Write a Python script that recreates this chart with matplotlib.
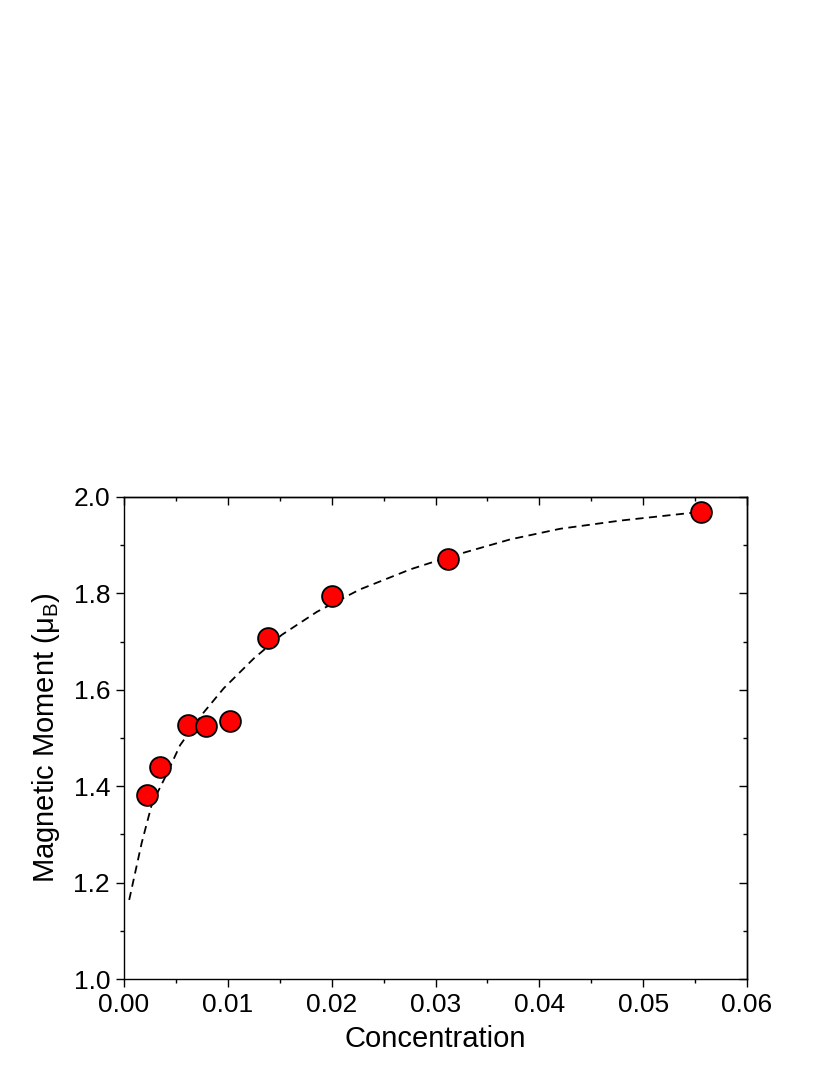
import matplotlib
matplotlib.use('Agg')
import matplotlib.pyplot as plt
from matplotlib.ticker import MultipleLocator, FormatStrFormatter

# measured points
conc = [0.00222, 0.00347, 0.00617, 0.0079, 0.0102, 0.01387, 0.02004, 0.0312, 0.0556]
moment = [1.382, 1.440, 1.527, 1.525, 1.535, 1.707, 1.795, 1.871, 1.969]

# dashed fit curve
fit_x = [0.0005, 0.0017, 0.0027, 0.0040, 0.0054, 0.0076, 0.0096, 0.0125, 0.0152,
         0.0186, 0.0227, 0.0276, 0.0312, 0.0372, 0.0420, 0.0478, 0.0542, 0.0556]
fit_y = [1.164, 1.282, 1.364, 1.420, 1.485, 1.551, 1.603, 1.665, 1.714,
         1.762, 1.808, 1.850, 1.875, 1.912, 1.934, 1.951, 1.966, 1.969]

plt.rcParams['font.family'] = ['Liberation Sans', 'DejaVu Sans']
plt.rcParams['mathtext.fontset'] = 'custom'
plt.rcParams['mathtext.rm'] = 'Liberation Sans'
plt.rcParams['mathtext.it'] = 'Liberation Sans'

fig = plt.figure(figsize=(8.3, 10.75), dpi=100)
ax = fig.add_axes([0.1494, 0.0893, 0.7506, 0.4484])

ax.plot(fit_x, fit_y, color='black', linestyle=(0, (4.5, 3)), linewidth=1.3)
ax.plot(conc, moment, 'o', markersize=15, markerfacecolor='#ff0000',
        markeredgecolor='black', markeredgewidth=1.3, zorder=3)

ax.set_xlim(0, 0.06)
ax.set_ylim(1.0, 2.0)

def set_locators(axis_x, axis_y):
    if axis_x is not None:
        axis_x.set_major_locator(MultipleLocator(0.01))
        axis_x.set_minor_locator(MultipleLocator(0.005))
    if axis_y is not None:
        axis_y.set_major_locator(MultipleLocator(0.2))
        axis_y.set_minor_locator(MultipleLocator(0.1))

set_locators(ax.xaxis, ax.yaxis)
ax.xaxis.set_major_formatter(FormatStrFormatter('%.2f'))
ax.yaxis.set_major_formatter(FormatStrFormatter('%.1f'))

# outward ticks on bottom/left
ax.tick_params(which='both', direction='out', width=1.0)
ax.tick_params(which='major', length=6, labelsize=19, pad=4)
ax.tick_params(which='minor', length=3)

# inward ticks on top/right, no labels
top = ax.secondary_xaxis('top')
right = ax.secondary_yaxis('right')
set_locators(top.xaxis, None)
set_locators(None, right.yaxis)
for sec in (top, right):
    sec.tick_params(which='both', direction='in', width=1.0, labeltop=False,
                    labelright=False)
    sec.tick_params(which='major', length=6)
    sec.tick_params(which='minor', length=3)
    for s in sec.spines.values():
        s.set_linewidth(1.0)

for s in ax.spines.values():
    s.set_linewidth(1.0)

ax.set_xlabel('Concentration', fontsize=21, labelpad=6)
ax.set_ylabel(r'Magnetic Moment ($\mathrm{\mu_B}$)', fontsize=21, labelpad=8)

fig.savefig('out.png', dpi=100)
